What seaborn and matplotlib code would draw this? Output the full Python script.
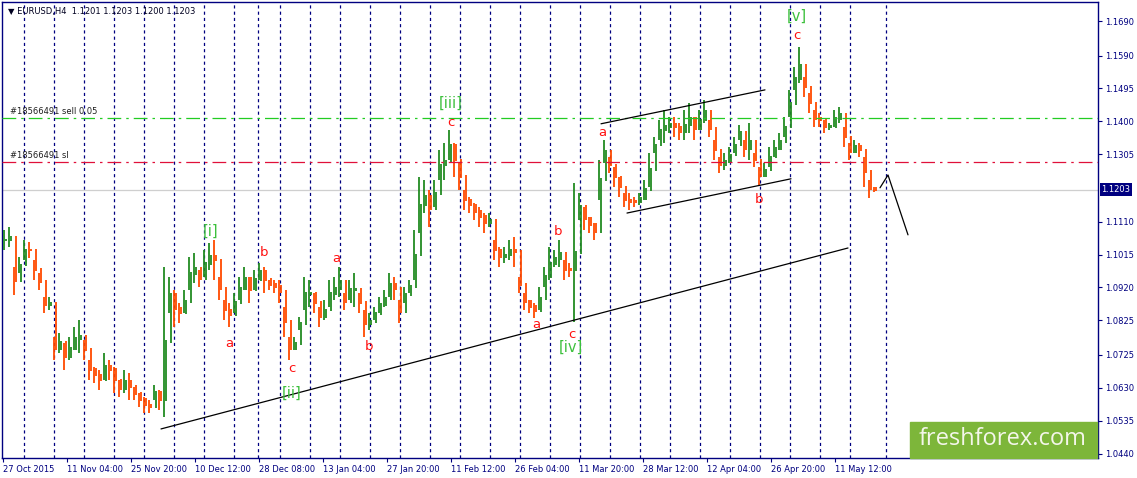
"""EURUSD H4 wave-count chart (MetaTrader style) redrawn with seaborn/matplotlib."""
import matplotlib
matplotlib.use("Agg")
import matplotlib.pyplot as plt
import matplotlib.transforms as mtransforms
from matplotlib.patches import Rectangle
import numpy as np
import seaborn as sns

# ---- data ----------------------------------------------------------------
# price range of each 5-bar slice (H4 bars, bar index = pixel column)
seg_high = [
    1.1086, 1.1095, 1.0980, 1.1008, 1.1057, 1.1051, 1.1000, 1.0962, 1.0893, 1.0893,
    1.0777, 1.0789, 1.0760, 1.0777, 1.0806, 1.0826, 1.0768, 1.0711, 1.0690, 1.0682,
    1.0731, 1.0711, 1.0690, 1.0653, 1.0682, 1.0673, 1.0633, 1.0615, 1.0604, 1.0595,
    1.0638, 1.0624, 1.0980, 1.0951, 1.0913, 1.0875, 1.0913, 1.1008, 1.1020, 1.0971,
    1.1028, 1.1049, 1.1057, 1.0951, 1.0884, 1.0875, 1.0904, 1.0951, 1.0980, 1.0951,
    1.0971, 1.0991, 1.0980, 1.0942, 1.0942, 1.0942, 1.0864, 1.0777, 1.0777, 1.0835,
    1.0951, 1.0942, 1.0904, 1.0864, 1.0884, 1.0942, 1.0951, 1.0980, 1.0904, 1.0942,
    1.0962, 1.0904, 1.0855, 1.0846, 1.0864, 1.0893, 1.0913, 1.0962, 1.0951, 1.0884,
    1.0922, 1.0942, 1.1086, 1.1239, 1.1231, 1.1202, 1.1231, 1.1317, 1.1338, 1.1375,
    1.1338, 1.1280, 1.1202, 1.1182, 1.1164, 1.1153, 1.1135, 1.1135, 1.1057, 1.1037,
    1.1037, 1.1057, 1.1066, 1.0951, 1.0904, 1.0884, 1.0875, 1.0922, 1.0980, 1.1037,
    1.1028, 1.1057, 1.1000, 1.0991, 1.1222, 1.1193, 1.1153, 1.1124, 1.1107, 1.1289,
    1.1346, 1.1297, 1.1268, 1.1239, 1.1193, 1.1193, 1.1182, 1.1193, 1.1231, 1.1309,
    1.1355, 1.1404, 1.1433, 1.1413, 1.1413, 1.1396, 1.1433, 1.1453, 1.1413, 1.1433,
    1.1462, 1.1404, 1.1346, 1.1297, 1.1309, 1.1326, 1.1355, 1.1390, 1.1346, 1.1396,
    1.1309, 1.1268, 1.1280, 1.1326, 1.1346, 1.1367, 1.1413, 1.1491, 1.1557, 1.1615,
    1.1528, 1.1482, 1.1433, 1.1424, 1.1404, 1.1396, 1.1433, 1.1442, 1.1384, 1.1338,
    1.1346, 1.1338, 1.1297, 1.1231, 1.1211,
]
seg_low = [
    1.1028, 1.1037, 1.0899, 1.0962, 1.1000, 1.1005, 1.0942, 1.0913, 1.0847, 1.0855,
    1.0711, 1.0731, 1.0682, 1.0711, 1.0739, 1.0731, 1.0711, 1.0653, 1.0644, 1.0624,
    1.0653, 1.0653, 1.0615, 1.0604, 1.0615, 1.0595, 1.0595, 1.0575, 1.0557, 1.0557,
    1.0595, 1.0566, 1.0546, 1.0847, 1.0806, 1.0817, 1.0847, 1.0913, 1.0933, 1.0922,
    1.0951, 1.0971, 1.0942, 1.0884, 1.0826, 1.0806, 1.0847, 1.0884, 1.0913, 1.0875,
    1.0913, 1.0942, 1.0904, 1.0913, 1.0904, 1.0875, 1.0777, 1.0711, 1.0739, 1.0797,
    1.0855, 1.0864, 1.0847, 1.0806, 1.0826, 1.0864, 1.0884, 1.0893, 1.0855, 1.0884,
    1.0864, 1.0847, 1.0777, 1.0797, 1.0826, 1.0847, 1.0864, 1.0893, 1.0884, 1.0817,
    1.0875, 1.0904, 1.0942, 1.1078, 1.1135, 1.1095, 1.1153, 1.1231, 1.1231, 1.1289,
    1.1239, 1.1202, 1.1144, 1.1135, 1.1115, 1.1095, 1.1078, 1.1095, 1.1000, 1.0980,
    1.0991, 1.1000, 1.0980, 1.0904, 1.0855, 1.0847, 1.0832, 1.0855, 1.0922, 1.0942,
    1.0980, 1.0980, 1.0942, 1.0951, 1.0820, 1.1115, 1.1086, 1.1078, 1.1057, 1.1173,
    1.1280, 1.1251, 1.1211, 1.1182, 1.1153, 1.1144, 1.1153, 1.1159, 1.1173, 1.1211,
    1.1309, 1.1346, 1.1338, 1.1367, 1.1355, 1.1346, 1.1346, 1.1367, 1.1346, 1.1375,
    1.1396, 1.1355, 1.1289, 1.1251, 1.1260, 1.1280, 1.1309, 1.1346, 1.1297, 1.1289,
    1.1268, 1.1216, 1.1239, 1.1268, 1.1297, 1.1317, 1.1355, 1.1413, 1.1491, 1.1511,
    1.1471, 1.1424, 1.1384, 1.1384, 1.1367, 1.1375, 1.1384, 1.1396, 1.1326, 1.1289,
    1.1309, 1.1297, 1.1211, 1.1179, 1.1196,
]
seg_bar = np.arange(5, 5 * len(seg_high) + 1, 5)

week_lines = [24, 54, 84, 114, 144, 174, 204, 234, 258, 280, 310, 340, 370, 400,
              430, 460, 490, 520, 550, 580, 610, 640, 670, 700, 730, 760, 790,
              820, 850, 886]

date_labels = ["27 Oct 2015", "11 Nov 04:00", "25 Nov 20:00", "10 Dec 12:00",
               "28 Dec 08:00", "13 Jan 04:00", "27 Jan 20:00", "11 Feb 12:00",
               "26 Feb 04:00", "11 Mar 20:00", "28 Mar 12:00", "12 Apr 04:00",
               "26 Apr 20:00", "11 May 12:00"]
date_bars = [3, 67, 131, 195, 259, 323, 387, 451, 515, 579, 643, 707, 771, 835]

price_ticks = [1.1690, 1.1590, 1.1495, 1.1400, 1.1305, 1.1110, 1.1015,
               1.0920, 1.0825, 1.0725, 1.0630, 1.0535, 1.0440]
last_price = 1.1203
sell_level = 1.1410
sl_level = 1.1283

# drawn trend lines: (bars, prices)
trend_lines = {
    "support": ([161, 848], [1.0511, 1.1034]),
    "chan_top": ([601, 765], [1.1393, 1.1491]),
    "chan_bot": ([627, 791], [1.1135, 1.1234]),
    "forecast": ([880, 888, 908], [1.1208, 1.1245, 1.1072]),
}

# wave labels: text, bar, price
wave_red = [("a", 229, 1.0757), ("b", 264, 1.1020), ("c", 292, 1.0687),
            ("a", 336, 1.1005), ("b", 369, 1.0748), ("c", 451, 1.1396),
            ("a", 536, 1.0812), ("b", 558, 1.1081), ("c", 572, 1.0783),
            ("a", 602, 1.1367), ("b", 759, 1.1173), ("c", 797, 1.1647)]
wave_green = [("[i]", 211, 1.1083), ("[ii]", 292, 1.0615), ("[iii]", 451, 1.1453),
              ("[iv]", 571, 1.0748), ("[v]", 797, 1.1705)]

# ---- style ---------------------------------------------------------------
sns.set_style("white")
plt.rcParams["font.family"] = ["DejaVu Sans"]
NAVY = "#000080"
UP = "#228b22"
DOWN = "#ff4a00"

W, H = 1137, 478
fig = plt.figure(figsize=(W / 100, H / 100), dpi=100)
ax = fig.add_axes([2 / W, 20 / H, 1096 / W, 456 / H])
ax.set_xlim(2, 1098)
ax.set_ylim(1.0427, 1.1745)

# weekly separators
for b in week_lines:
    ax.axvline(b, color=NAVY, lw=0.9, ls=(0, (2.5, 2.5)), zorder=1)

# price bars: each slice's range plus a stick for the move from the previous slice
hi = np.array(seg_high)
lo = np.array(seg_low)
mid = (hi + lo) / 2
prev = np.concatenate([[mid[0]], mid[:-1]])
bar_colors = np.where(mid >= prev, UP, DOWN)
ax.vlines(seg_bar - 1, lo, hi, colors=bar_colors, lw=1.3, zorder=3)
ax.vlines(seg_bar + 1, np.minimum(prev, mid) - 0.0004, np.maximum(prev, mid) + 0.0004,
          colors=bar_colors, lw=1.3, zorder=3)

# order levels
ax.axhline(sell_level, color="#22cc22", lw=0.9, ls=(0, (11, 4, 2, 4)), zorder=4)
ax.axhline(sl_level, color="#e0103a", lw=0.9, ls=(0, (11, 4, 2, 4)), zorder=4)
ax.axhline(last_price, color="#cfcfcf", lw=0.9, zorder=2)
ax.text(10, sell_level + 0.0006, "#18566491 sell 0.05", fontsize=6, color="#202020",
        va="bottom", ha="left")
ax.text(10, sl_level + 0.0006, "#18566491 sl", fontsize=6, color="#202020",
        va="bottom", ha="left")

# trend lines
for name, (bx, py) in trend_lines.items():
    sns.lineplot(x=bx, y=py, color="black", lw=0.9, sort=False, estimator=None,
                 ax=ax, zorder=5)

for txt, b, p in wave_red:
    ax.text(b, p, txt, color="#ff1010", fontsize=9.5, ha="center", va="center",
            zorder=6)
for txt, b, p in wave_green:
    ax.text(b, p, txt, color="#3cc03c", fontsize=10.5, ha="center", va="center",
            zorder=6)

# header
ax.text(8, 1.1745 - 0.0028, "\u25bc EURUSD,H4  1.1201 1.1203 1.1200 1.1203",
        fontsize=6, color="#000020", ha="left", va="center")

# axes / ticks
for s in ax.spines.values():
    s.set_color(NAVY)
    s.set_linewidth(1.0)
ax.yaxis.tick_right()
ax.set_yticks(price_ticks)
ax.set_yticklabels([f"{v:.4f}" for v in price_ticks])
ax.set_xticks(date_bars)
ax.set_xticklabels(date_labels)
for lab in ax.get_xticklabels():
    lab.set_ha("left")
ax.tick_params(axis="both", direction="out", length=3, width=0.8, color=NAVY,
               labelcolor=NAVY, labelsize=6, pad=2)
ax.tick_params(axis="y", left=False, right=True)
ax.tick_params(axis="x", bottom=True)
ax.set_xlabel("")
ax.set_ylabel("")

trans = mtransforms.blended_transform_factory(ax.transAxes, ax.transData)
ax.text(1.003, last_price, "1.1203", transform=trans, fontsize=6, color="white",
        va="center", ha="left",
        bbox=dict(boxstyle="square,pad=0.2", fc=NAVY, ec="none"))

# watermark
fig.add_artist(Rectangle((910 / W, 20 / H), 187 / W, 36 / H, transform=fig.transFigure,
                         color="#7db63a", zorder=10))
fig.text(1003 / W, 39 / H, "freshforex.com", fontsize=17, color="#f4f6ea",
         family=["Open Sans", "DejaVu Sans"], ha="center", va="center", zorder=11)

fig.savefig("out.png", dpi=100)
